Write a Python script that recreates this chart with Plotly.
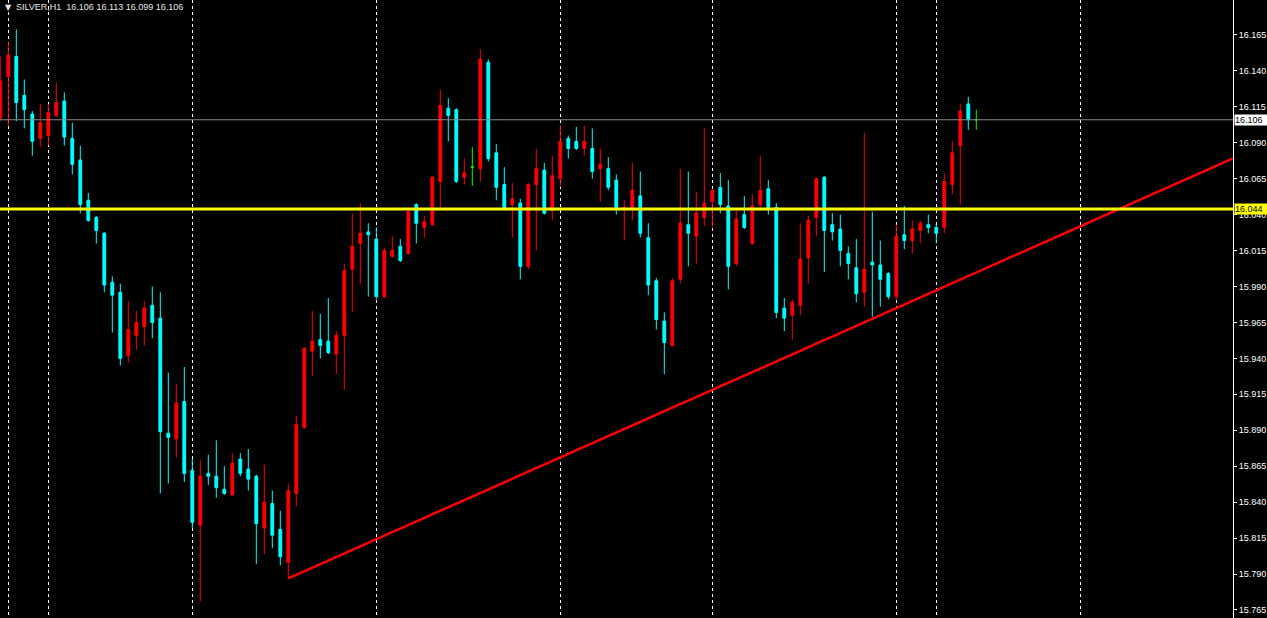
import plotly.graph_objects as go

# ---------------- data (SILVER, H1) ----------------
symbol = "SILVER,H1"
last_ohlc = ["16.106", "16.113", "16.099", "16.106"]

opens = [16.107, 16.136, 16.150, 16.123, 16.110, 16.093, 16.095, 16.109, 16.119, 16.093,
         16.078, 16.050, 16.038, 16.027, 15.993, 15.986, 15.942, 15.956, 15.962, 15.977,
         15.968, 15.888, 15.884, 15.910, 15.862, 15.824, 15.860, 15.858, 15.849, 15.845,
         15.870, 15.863, 15.858, 15.822, 15.839, 15.821, 15.798, 15.846, 15.892, 15.945,
         15.953, 15.952, 15.943, 15.956, 16.002, 16.020, 16.028, 16.023, 15.983, 16.011,
         16.018, 16.013, 16.047, 16.031, 16.033, 16.063, 16.114, 16.113, 16.066, 16.073,
         16.072, 16.146, 16.083, 16.061, 16.047, 16.048, 16.004, 16.061, 16.071, 16.043,
         16.065, 16.093, 16.091, 16.086, 16.086, 16.072, 16.072, 16.064, 16.044, 16.045,
         16.053, 16.024, 15.994, 15.966, 15.949, 15.995, 16.033, 16.025, 16.038, 16.049,
         16.059, 16.046, 16.006, 16.040, 16.020, 16.047, 16.058, 16.045, 15.975, 15.970,
         15.977, 16.010, 16.038, 16.066, 16.033, 16.030, 16.013, 16.003, 15.986, 16.007,
         16.005, 15.999, 15.983, 16.026, 16.022, 16.029, 16.033, 16.031, 16.031, 16.061,
         16.088, 16.117, 16.106]
highs = [16.150, 16.160, 16.169, 16.134, 16.112, 16.117, 16.117, 16.132, 16.125, 16.104,
         16.088, 16.055, 16.039, 16.028, 15.997, 15.992, 15.980, 15.973, 15.980, 15.990,
         15.986, 15.930, 15.922, 15.934, 15.870, 15.869, 15.873, 15.883, 15.865, 15.874,
         15.874, 15.877, 15.859, 15.866, 15.848, 15.834, 15.853, 15.900, 15.948, 15.973,
         15.971, 15.982, 15.959, 16.006, 16.041, 16.048, 16.034, 16.031, 16.017, 16.025,
         16.023, 16.043, 16.048, 16.039, 16.067, 16.127, 16.121, 16.114, 16.079, 16.087,
         16.155, 16.148, 16.089, 16.073, 16.062, 16.051, 16.062, 16.086, 16.076, 16.081,
         16.102, 16.095, 16.101, 16.102, 16.100, 16.086, 16.080, 16.068, 16.050, 16.076,
         16.070, 16.034, 15.996, 15.972, 15.996, 16.072, 16.070, 16.056, 16.100, 16.058,
         16.069, 16.064, 16.043, 16.053, 16.054, 16.081, 16.064, 16.048, 15.982, 15.981,
         16.034, 16.039, 16.066, 16.067, 16.041, 16.040, 16.018, 16.023, 16.097, 16.042,
         16.022, 16.000, 16.033, 16.046, 16.036, 16.036, 16.040, 16.034, 16.069, 16.091,
         16.117, 16.122, 16.113]
lows = [16.105, 16.102, 16.105, 16.100, 16.081, 16.087, 16.088, 16.108, 16.088, 16.068,
        16.041, 16.035, 16.020, 15.986, 15.958, 15.935, 15.937, 15.946, 15.949, 15.954,
        15.846, 15.853, 15.871, 15.854, 15.822, 15.771, 15.852, 15.843, 15.845, 15.844,
        15.858, 15.848, 15.797, 15.804, 15.808, 15.796, 15.787, 15.837, 15.891, 15.928,
        15.940, 15.943, 15.929, 15.918, 15.972, 15.992, 15.983, 15.981, 15.982, 16.010,
        16.007, 16.012, 16.020, 16.024, 16.032, 16.045, 16.091, 16.062, 16.061, 16.060,
        16.063, 16.077, 16.050, 16.044, 16.024, 15.995, 16.002, 16.015, 16.040, 16.036,
        16.059, 16.079, 16.085, 16.081, 16.065, 16.049, 16.057, 16.040, 16.022, 16.036,
        16.024, 15.984, 15.960, 15.929, 15.948, 15.992, 16.004, 16.006, 16.032, 16.031,
        16.041, 15.988, 16.004, 16.030, 16.019, 16.045, 16.040, 15.968, 15.959, 15.953,
        15.970, 15.992, 16.025, 16.000, 16.022, 16.004, 15.995, 15.979, 15.976, 15.969,
        15.976, 15.981, 15.981, 16.016, 16.013, 16.020, 16.027, 16.020, 16.027, 16.054,
        16.047, 16.099, 16.099]
closes = [16.133, 16.151, 16.118, 16.113, 16.091, 16.104, 16.111, 16.118, 16.094, 16.075,
          16.047, 16.036, 16.029, 15.991, 15.984, 15.940, 15.960, 15.965, 15.975, 15.965,
          15.889, 15.885, 15.909, 15.860, 15.826, 15.858, 15.858, 15.850, 15.846, 15.867,
          15.860, 15.856, 15.825, 15.840, 15.817, 15.802, 15.848, 15.894, 15.947, 15.952,
          15.949, 15.944, 15.956, 16.001, 16.018, 16.027, 16.026, 15.983, 16.015, 16.015,
          16.008, 16.042, 16.034, 16.035, 16.066, 16.116, 16.109, 16.063, 16.069, 16.073,
          16.148, 16.079, 16.059, 16.045, 16.051, 16.004, 16.061, 16.072, 16.041, 16.067,
          16.091, 16.086, 16.086, 16.091, 16.070, 16.075, 16.059, 16.045, 16.045, 16.057,
          16.027, 15.991, 15.967, 15.951, 15.994, 16.034, 16.027, 16.041, 16.048, 16.057,
          16.047, 16.004, 16.037, 16.031, 16.046, 16.057, 16.044, 15.972, 15.968, 15.979,
          16.009, 16.036, 16.065, 16.029, 16.028, 16.015, 16.006, 15.985, 16.002, 16.005,
          15.995, 15.983, 16.025, 16.022, 16.030, 16.034, 16.031, 16.027, 16.063, 16.083,
          16.112, 16.106, 16.106]
bars = list(range(len(opens)))

# horizontal levels
bid_level = 16.106
support_level = 16.044
# trend line anchors (bar index, price); drawn as a ray to the right edge
trend_bars = [36, 112]
trend_prices = [15.787, 15.975]

# day separators (bar index)
separator_bars = [1, 6, 24, 47, 70, 89, 112, 117, 135]

# price axis ticks
tick_prices = [round(15.765 + 0.025 * i, 3) for i in range(18)]

# ---------------- figure ----------------
W, H = 1267, 618
x_range = [-0.0375, 154.0875]
y_range = [15.7594, 16.1893]

reg = [i for i in bars if opens[i] != closes[i]]
doji = [i for i in bars if opens[i] == closes[i]]

fig = go.Figure()
fig.add_trace(go.Candlestick(
    x=[bars[i] for i in reg],
    open=[opens[i] for i in reg], high=[highs[i] for i in reg],
    low=[lows[i] for i in reg], close=[closes[i] for i in reg],
    increasing=dict(line=dict(color="#ff0000", width=1), fillcolor="#ff0000"),
    decreasing=dict(line=dict(color="#00ffff", width=1), fillcolor="#00ffff"),
    whiskerwidth=0, showlegend=False, hoverinfo="skip",
))
fig.add_trace(go.Candlestick(
    x=[bars[i] for i in doji],
    open=[opens[i] for i in doji], high=[highs[i] for i in doji],
    low=[lows[i] for i in doji], close=[closes[i] for i in doji],
    increasing=dict(line=dict(color="#00ff00", width=1), fillcolor="#00ff00"),
    decreasing=dict(line=dict(color="#00ff00", width=1), fillcolor="#00ff00"),
    whiskerwidth=0, showlegend=False, hoverinfo="skip",
))

# trend ray
slope = (trend_prices[1] - trend_prices[0]) / (trend_bars[1] - trend_bars[0])
ray_x = [trend_bars[0], x_range[1]]
ray_y = [trend_prices[0], trend_prices[0] + slope * (x_range[1] - trend_bars[0])]
fig.add_trace(go.Scatter(x=ray_x, y=ray_y, mode="lines",
                         line=dict(color="#ff0000", width=2.5),
                         showlegend=False, hoverinfo="skip", cliponaxis=True))

shapes = [
    dict(type="line", xref="paper", x0=0, x1=1, yref="y", y0=bid_level, y1=bid_level,
         line=dict(color="#8a8a8a", width=1), layer="above"),
    dict(type="line", xref="paper", x0=0, x1=1, yref="y", y0=support_level, y1=support_level,
         line=dict(color="#ffff00", width=3), layer="above"),
]

annotations = [
    dict(text="▼", xref="paper", yref="paper", x=0, y=1, xanchor="left", yanchor="top",
         xshift=3, yshift=-1, showarrow=False,
         font=dict(family="DejaVu Sans", size=8, color="#e6e6e6")),
    dict(text=symbol + "\u00a0\u00a0" + " ".join(last_ohlc), xref="paper", yref="paper", x=0, y=1,
         xanchor="left", yanchor="top", xshift=14, yshift=0, showarrow=False,
         font=dict(family="Liberation Sans", size=9, color="#e6e6e6")),
    dict(text=f"{bid_level:.3f}", xref="paper", yref="y", x=1, y=bid_level,
         xanchor="left", yanchor="middle", xshift=1, showarrow=False,
         bgcolor="#ffffff", borderpad=0, width=33, align="left",
         font=dict(family="Liberation Sans", size=9, color="#000000")),
    dict(text=f"{support_level:.3f}", xref="paper", yref="y", x=1, y=support_level,
         xanchor="left", yanchor="middle", xshift=1, showarrow=False,
         bgcolor="#ffff00", borderpad=0, width=33, align="left",
         font=dict(family="Liberation Sans", size=9, color="#000000")),
]

fig.update_layout(
    width=W, height=H,
    margin=dict(l=0, r=34, t=0, b=0, autoexpand=False),
    paper_bgcolor="#000000", plot_bgcolor="#000000",
    boxgap=0.5,
    shapes=shapes, annotations=annotations,
    xaxis=dict(range=x_range, tickvals=separator_bars, showticklabels=False, ticks="",
               showgrid=True, gridcolor="#ffffff", gridwidth=1, griddash="3px,3px",
               zeroline=False, showline=False, rangeslider=dict(visible=False),
               fixedrange=True),
    yaxis=dict(range=y_range, side="right", tickvals=tick_prices,
               ticktext=[f"{v:.3f}" for v in tick_prices],
               showgrid=False, zeroline=False, showline=True, linecolor="#ffffff",
               linewidth=1, ticks="outside", ticklen=3, tickcolor="#ffffff", tickwidth=1,
               tickfont=dict(family="Liberation Sans", size=9, color="#ffffff"),
               fixedrange=True),
    hovermode=False,
)

fig.write_html(
    "out.html",
    config={"displayModeBar": False},
    post_script="document.body.style.margin='0px';document.body.style.overflow='hidden';",
)
